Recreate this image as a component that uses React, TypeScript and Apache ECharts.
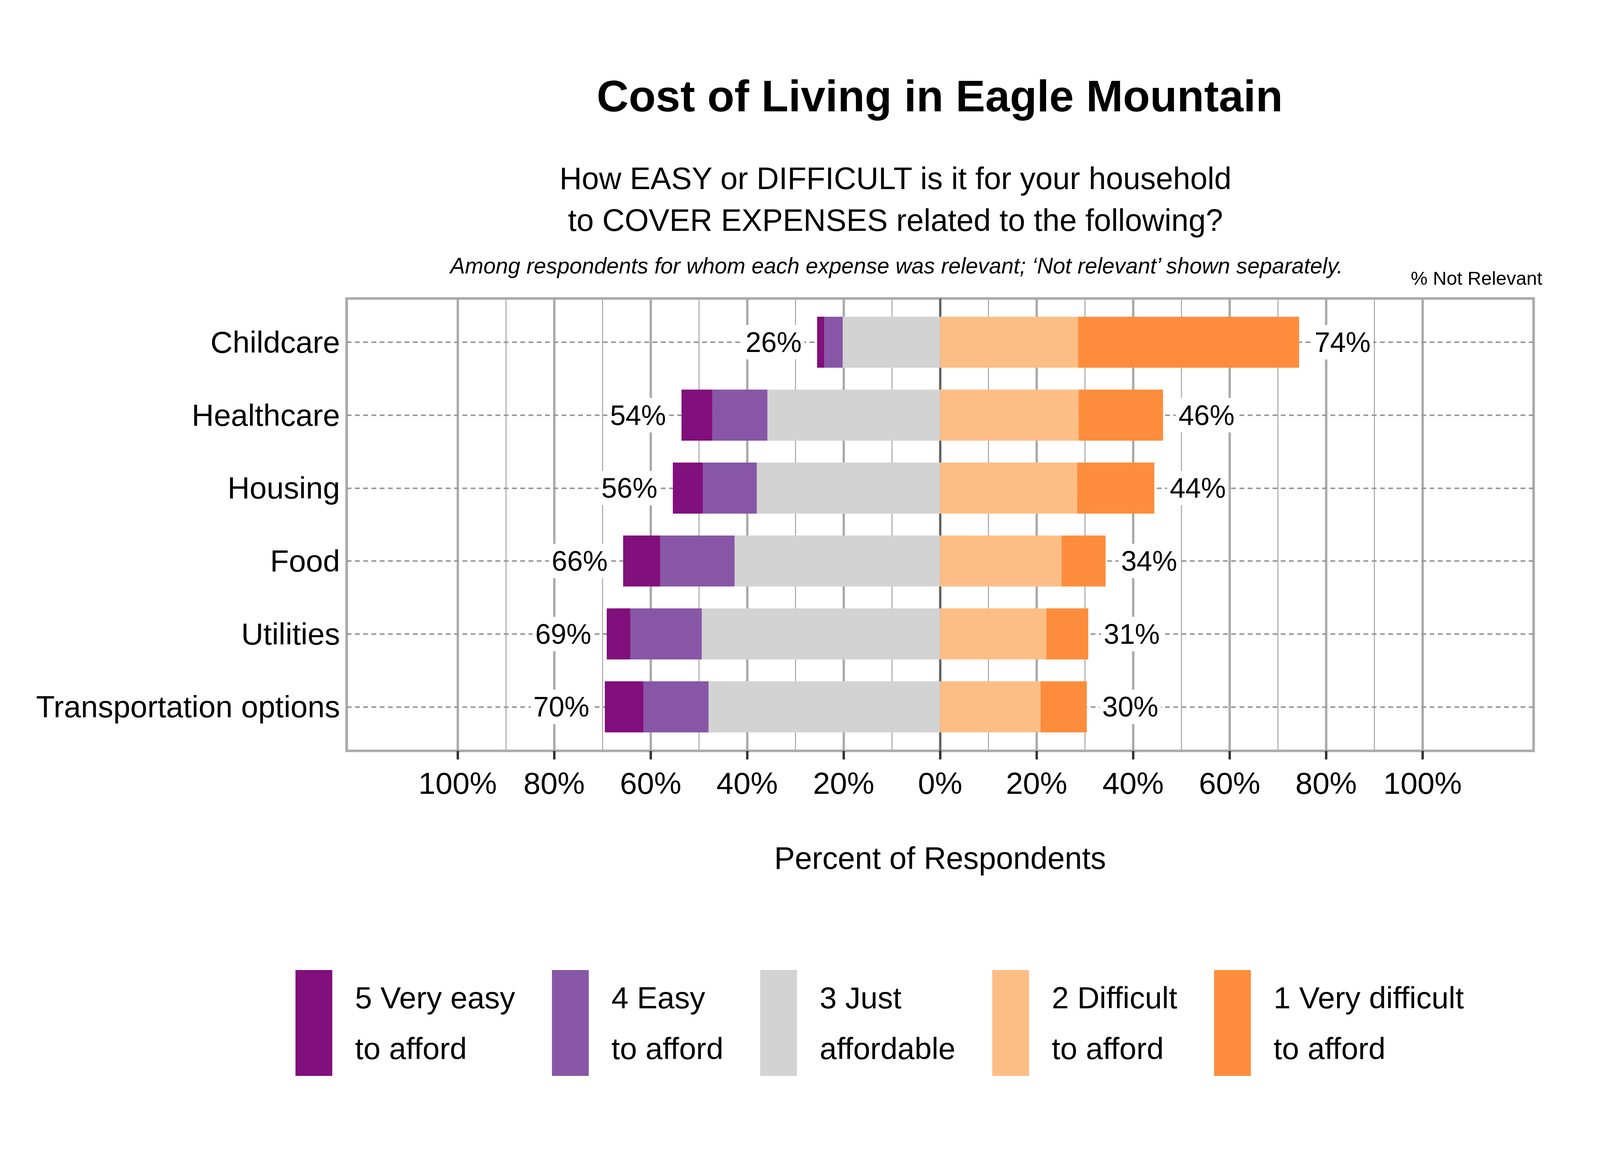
import React, { useEffect, useRef } from 'react';
import * as echarts from 'echarts';

// ---------- data ----------
const categories = ['Childcare', 'Healthcare', 'Housing', 'Food', 'Utilities', 'Transportation options'];
const veryEasy = [1.5, 6.4, 6.2, 7.7, 4.9, 8.0];
const easy = [3.8, 11.4, 11.2, 15.4, 14.8, 13.5];
const justAffordable = [20.2, 35.8, 38.0, 42.6, 49.4, 48.0];
const difficult = [28.6, 28.7, 28.4, 25.2, 22.0, 20.8];
const veryDifficult = [45.8, 17.5, 16.0, 9.1, 8.7, 9.6];
const leftTotals = [26, 54, 56, 66, 69, 70];
const rightTotals = [74, 46, 44, 34, 31, 30];
const notRelevant = [54, 4, 2, 2, 3, 11];
const tickValues = [-100, -80, -60, -40, -20, 0, 20, 40, 60, 80, 100];
const minorGridValues = [-90, -70, -50, -30, -10, 10, 30, 50, 70, 90];

const legendNames = [
  '5 Very easy\nto afford',
  '4 Easy\nto afford',
  '3 Just\naffordable',
  '2 Difficult\nto afford',
  '1 Very difficult\nto afford',
];
const colors = ['#810f7c', '#8856a7', '#d3d3d3', '#fdbe85', '#fd8d3c'];

const X_MIN = -123;
const X_MAX = 123;
const FONT = '"Liberation Sans", Arial, Helvetica, sans-serif';
const REF_W = 6000;
const REF_H = 3000;
const CENTRAL = 0.3465; // central baseline offset above alphabetic baseline (em)

function buildOption(W: number, H: number) {
  const sx = W / REF_W;
  const sy = H / REF_H;
  const X = (v: number) => v * sx;
  const Y = (v: number) => v * sy;
  const F = (v: number) => v * sx;
  const B = (v: number) => v * (sx + sy) / 2;
  // y of a text's middle from its reference baseline
  const mid = (baseline: number, fontRef: number) => Y(baseline) - CENTRAL * F(fontRef);

  const gridLineData = [
    ...minorGridValues.map((v) => ({ xAxis: v, lineStyle: { color: '#ababab', width: X(4), type: 'solid' } })),
    ...tickValues.filter((v) => v !== 0).map((v) => ({ xAxis: v, lineStyle: { color: '#ababab', width: X(9), type: 'solid' } })),
    { xAxis: 0, lineStyle: { color: '#666666', width: X(9), type: 'solid' } },
  ];

  const barBase = {
    type: 'bar',
    stack: 'total',
    xAxisIndex: 1,
    yAxisIndex: 1,
    barWidth: '70%',
    z: 3,
  };

  const valueLabel = {
    fontSize: F(105),
    fontFamily: FONT,
    color: '#000',
    backgroundColor: '#ffffff',
    padding: [Y(8), X(10), Y(8), X(10)],
  };

  const textStyleBase = { fill: '#000', fontFamily: FONT, align: 'center', verticalAlign: 'middle', textAlign: 'center', textVerticalAlign: 'middle' };

  // axis geometry
  const plotBottom = Y(1922);
  const tickFont = F(115);
  const tickMargin = Y(2005) - tickFont / 2 - plotBottom;
  const nameFont = F(116);
  const nameGap = Y(2197) - nameFont / 2 - plotBottom;

  // legend geometry
  const legFont = F(115);
  const legLine = Y(130);
  const itemH = Y(271);
  const padTop = Math.max(0, 2 * (Y(135) - itemH / 2 + legLine / 2 - CENTRAL * legFont));
  const textBoxTop = itemH / 2 - (2 * legLine + padTop) / 2;
  const legendTop = Y(2483) + Math.min(0, textBoxTop);

  return {
    animation: false,
    backgroundColor: '#ffffff',
    textStyle: { fontFamily: FONT },
    grid: [
      { left: X(1300), right: W - X(5751), top: Y(764), height: Y(1158), show: true, borderColor: '#ababab', borderWidth: B(8), backgroundColor: 'transparent' },
      { left: X(1300), right: W - X(5751), top: Y(782.7), height: Y(1120), show: false },
    ],
    xAxis: [
      {
        type: 'value',
        gridIndex: 0,
        min: X_MIN,
        max: X_MAX,
        axisLine: { show: false },
        splitLine: { show: false },
        axisTick: { show: true, customValues: tickValues, length: Y(22), lineStyle: { color: '#333333', width: X(9) } },
        axisLabel: {
          show: true,
          customValues: tickValues,
          formatter: (v: number) => `${Math.abs(Math.round(v))}%`,
          fontSize: tickFont,
          fontFamily: FONT,
          color: '#000',
          margin: tickMargin,
        },
        name: 'Percent of Respondents',
        nameLocation: 'middle',
        nameGap: nameGap,
        nameTextStyle: { fontSize: nameFont, fontFamily: FONT, color: '#000' },
      },
      { type: 'value', gridIndex: 1, min: X_MIN, max: X_MAX, show: false, splitLine: { show: false } },
    ],
    yAxis: [
      { type: 'value', gridIndex: 0, min: 0, max: 1, show: false, splitLine: { show: false } },
      {
        type: 'category',
        gridIndex: 1,
        data: categories,
        inverse: true,
        axisLine: { show: false },
        axisTick: { show: false },
        splitLine: { show: false },
        axisLabel: { fontSize: F(115), fontFamily: FONT, color: '#000', margin: X(25) },
      },
    ],
    legend: {
      data: legendNames,
      left: X(1108),
      top: legendTop,
      orient: 'horizontal',
      padding: 0,
      itemWidth: X(138),
      itemHeight: itemH,
      itemGap: X(138),
      icon: 'rect',
      selectedMode: false,
      textStyle: { fontSize: legFont, lineHeight: legLine, fontFamily: FONT, color: '#000', padding: [padTop, 0, 0, Math.max(0, X(85) - 5)] },
    },
    graphic: [
      { type: 'text', x: X(3524), y: mid(285, 166), style: { ...textStyleBase, text: 'Cost of Living in Eagle Mountain', fontSize: F(166), fontWeight: 'bold' } },
      { type: 'text', x: X(3358), y: mid(484, 116), style: { ...textStyleBase, text: 'How EASY or DIFFICULT is it for your household', fontSize: F(116) } },
      { type: 'text', x: X(3358), y: mid(591, 116), style: { ...textStyleBase, text: 'to COVER EXPENSES related to the following?', fontSize: F(116) } },
      { type: 'text', x: X(3362), y: mid(700, 83), style: { ...textStyleBase, text: 'Among respondents for whom each expense was relevant; \u2018Not relevant\u2019 shown separately.', fontSize: F(83), fontStyle: 'italic' } },
      { type: 'text', x: X(5537), y: mid(729, 71), style: { ...textStyleBase, text: '% Not Relevant', fontSize: F(71) } },
    ],
    series: [
      {
        type: 'line',
        name: 'gridlines',
        xAxisIndex: 0,
        yAxisIndex: 0,
        data: [],
        z: 1,
        silent: true,
        markLine: { z: 1, silent: true, symbol: ['none', 'none'], label: { show: false }, data: gridLineData },
      },
      {
        type: 'line',
        name: 'rowlines',
        xAxisIndex: 1,
        yAxisIndex: 1,
        data: [],
        z: 1,
        silent: true,
        markLine: {
          z: 1,
          silent: true,
          symbol: ['none', 'none'],
          label: { show: false },
          lineStyle: { color: '#999999', width: Y(4), type: [X(18), X(13)] },
          data: categories.map((c) => ({ yAxis: c })),
        },
      },
      { ...barBase, name: legendNames[2], data: justAffordable.map((v) => -v), itemStyle: { color: colors[2] } },
      { ...barBase, name: legendNames[1], data: easy.map((v) => -v), itemStyle: { color: colors[1] } },
      {
        ...barBase,
        name: legendNames[0],
        data: veryEasy.map((v) => -v),
        itemStyle: { color: colors[0] },
        label: { show: true, position: 'left', distance: X(48), formatter: (p: any) => `${leftTotals[p.dataIndex]}%`, ...valueLabel },
      },
      { ...barBase, name: legendNames[3], data: difficult, itemStyle: { color: colors[3] } },
      {
        ...barBase,
        name: legendNames[4],
        data: veryDifficult,
        itemStyle: { color: colors[4] },
        label: { show: true, position: 'right', distance: X(48), formatter: (p: any) => `${rightTotals[p.dataIndex]}%`, ...valueLabel },
      },
      {
        type: 'scatter',
        name: 'notRelevant',
        xAxisIndex: 1,
        yAxisIndex: 1,
        z: 4,
        clip: false,
        silent: true,
        symbolSize: 1,
        itemStyle: { opacity: 0 },
        data: notRelevant.map((v, i) => [X_MAX, i]),
        label: {
          show: true,
          position: 'left',
          distance: X(11),
          formatter: (p: any) => `${notRelevant[p.dataIndex]}%`,
          fontSize: F(87),
          fontFamily: FONT,
          color: '#000',
          backgroundColor: '#ffffff',
          padding: [Y(10), X(28), Y(10), X(42)],
        },
      },
    ],
  };
}

export default function App() {
  const ref = useRef<HTMLDivElement>(null);
  useEffect(() => {
    if (!ref.current) return;
    const W = window.innerWidth || REF_W;
    const H = window.innerHeight || REF_H;
    const chart = echarts.init(ref.current, null, { renderer: 'svg', width: W, height: H });
    chart.setOption(buildOption(W, H) as any);
    return () => chart.dispose();
  }, []);
  return (
    <div
      ref={ref}
      style={{ position: 'fixed', left: 0, top: 0, width: '100vw', height: '100vh', background: '#ffffff' }}
    />
  );
}
